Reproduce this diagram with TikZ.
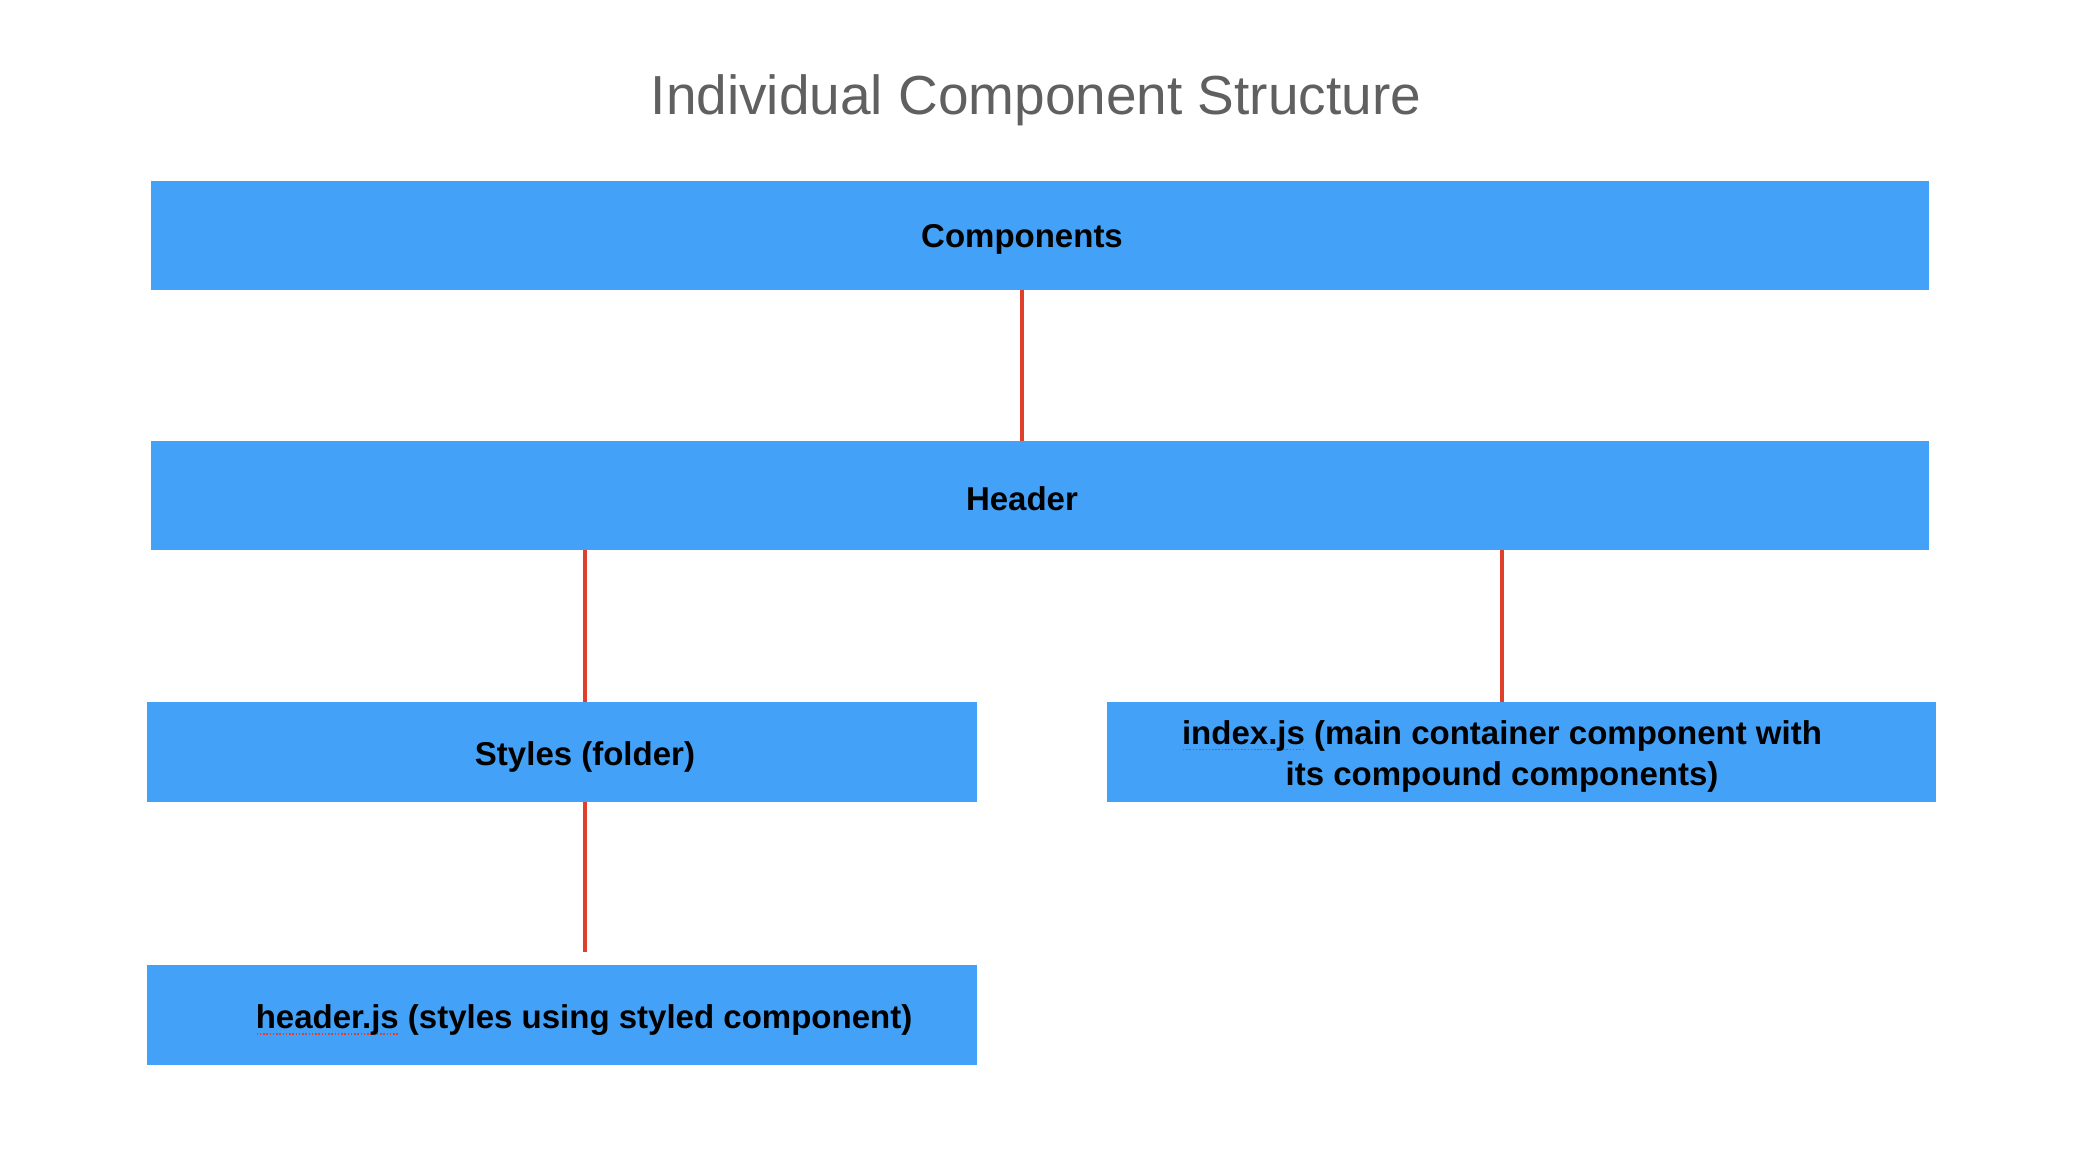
\documentclass[tikz,border=0pt]{standalone}
\usepackage{fontspec}
\setmainfont{Liberation Sans}
\usetikzlibrary{calc}
\definecolor{boxblue}{RGB}{67,161,247}
\definecolor{linkred}{RGB}{222,64,44}
\definecolor{titlegray}{RGB}{96,96,96}
\newcommand{\spellmark}[1]{\setbox0\hbox{#1}\rlap{\raisebox{-3.2pt}{\color{linkred}\hbox to \wd0{\xleaders\hbox to 1.6pt{\hss\rule{0.8pt}{0.8pt}\hss}\hfill}}}#1}

\begin{document}
\begin{tikzpicture}[x=0.5pt,y=-0.5pt]
\tikzset{
  box/.style={rectangle,fill=boxblue,draw=none,inner sep=0pt},
  wide/.style={box,minimum width=889pt,minimum height=54.5pt},
  half/.style={box,minimum width=415pt,minimum height=50pt},
  boxtext/.style={inner sep=0pt,font=\fontsize{16.5}{20.5}\selectfont\bfseries,align=center},
  link/.style={linkred,line width=2pt}
}
\useasboundingbox (0,0) rectangle (2074,1166);
\node[font=\fontsize{27.5}{33}\selectfont,text=titlegray] (n_title) at (1036,100) {Individual Component Structure};
% boxes
\node[wide] (n_comp) at (1040,235.5) {};
\node[wide] (n_head) at (1040,495.5) {};
\node[half] (n_styles) at (562,752) {};
\node[half,minimum width=414.5pt] (n_index) at (1521.5,752) {};
\node[half] (n_hjs) at (562,1015) {};
% labels
\node[boxtext] (t_comp) at (1022,239.5) {Components};
\node[boxtext] (t_head) at (1022,499) {Header};
\node[boxtext] (t_styles) at (585,757) {Styles (folder)};
\node[boxtext] (t_index) at (1502,756) {\spellmark{index.js} (main container component with\\its compound components)};
\node[boxtext] (t_hjs) at (584,1020) {\spellmark{header.js} (styles using styled component)};
% links
\draw[link] (n_comp.south -| t_comp) -- (n_head.north -| t_comp);
\draw[link] (n_head.south -| t_styles) -- (n_styles.north -| t_styles);
\draw[link] (n_head.south -| t_index) -- (n_index.north -| t_index);
\draw[link,shorten >=6.5pt] (n_styles.south -| t_styles) -- (n_hjs.north -| t_styles);
\end{tikzpicture}
\end{document}
